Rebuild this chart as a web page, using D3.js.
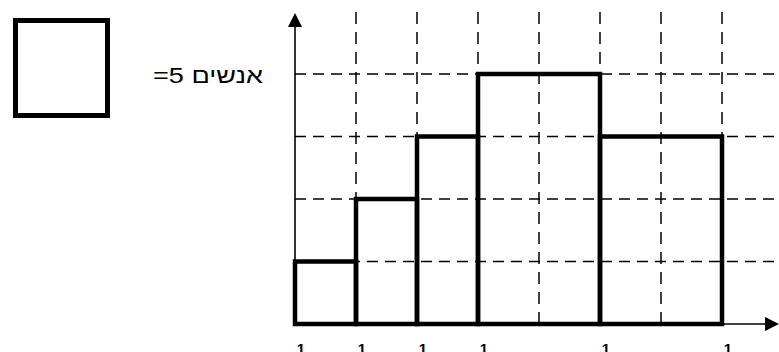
<!DOCTYPE html>
<html>
<head>
<meta charset="utf-8">
<script src="https://cdn.jsdelivr.net/npm/d3@7"></script>
<style>
  html, body { margin: 0; padding: 0; background: #fff; overflow: hidden; }
</style>
</head>
<body>
<div id="chart"></div>
<script>
// bin edges and heights, in grid squares (one square = 5 people)
var binEdges = [0, 1, 2, 3, 5, 7]
var binHeights = [1, 2, 3, 4, 3]
var gridCols = [1, 2, 3, 4, 5, 6, 7]
var gridRows = [1, 2, 3, 4]
var tickLabels = ["1", "1", "1", "1", "1", "1"]
var legendText = "אנשים 5="

var width = 779
var height = 352

var svg = d3.select("#chart")
  .append("svg")
  .attr("width", width)
  .attr("height", height)

// scales
var x = d3.scaleLinear().domain([0, 7]).range([295, 722])
var y = d3.scaleLinear().domain([0, 4]).range([324, 74])

var gridTop = 12
var gridRight = 778

// dashed grid
svg.append("g")
  .selectAll("line")
  .data(gridCols)
  .join("line")
    .attr("x1", d => x(d))
    .attr("x2", d => x(d))
    .attr("y1", gridTop)
    .attr("y2", y(0))
    .attr("stroke", "#000")
    .attr("stroke-width", 1.5)
    .attr("stroke-dasharray", "12,8")

svg.append("g")
  .selectAll("line")
  .data(gridRows)
  .join("line")
    .attr("x1", x(0))
    .attr("x2", gridRight)
    .attr("y1", d => y(d))
    .attr("y2", d => y(d))
    .attr("stroke", "#000")
    .attr("stroke-width", 1.5)
    .attr("stroke-dasharray", "11,7")

// axes with arrow heads
svg.append("line")
  .attr("x1", x(0)).attr("x2", x(0))
  .attr("y1", y(0)).attr("y2", 24)
  .attr("stroke", "#000").attr("stroke-width", 1.6)

svg.append("path")
  .attr("d", "M" + x(0) + ",13 L" + (x(0) - 7) + ",27 L" + (x(0) + 7) + ",27 Z")
  .attr("fill", "#000")

svg.append("line")
  .attr("x1", x(0)).attr("x2", 768)
  .attr("y1", y(0)).attr("y2", y(0))
  .attr("stroke", "#000").attr("stroke-width", 1.6)

svg.append("path")
  .attr("d", "M779," + y(0) + " L765," + (y(0) - 7) + " L765," + (y(0) + 7) + " Z")
  .attr("fill", "#000")

// histogram bars
var bins = binHeights.map((h, i) => ({x0: binEdges[i], x1: binEdges[i + 1], h: h}))

svg.append("g")
  .selectAll("rect")
  .data(bins)
  .join("rect")
    .attr("x", d => x(d.x0))
    .attr("y", d => y(d.h))
    .attr("width", d => x(d.x1) - x(d.x0))
    .attr("height", d => y(0) - y(d.h))
    .attr("fill", "none")
    .attr("stroke", "#000")
    .attr("stroke-width", 4.5)

// tick labels (cut off by the bottom edge, as in the original)
svg.append("g")
  .selectAll("text")
  .data(binEdges)
  .join("text")
    .attr("x", d => x(d) + 6)
    .attr("y", 354)
    .attr("text-anchor", "middle")
    .style("font-family", "'Liberation Sans', Arial, sans-serif")
    .style("font-size", "15px")
    .style("font-weight", "bold")
    .text((d, i) => tickLabels[i])

// legend: one square = 5 people
svg.append("rect")
  .attr("x", 15.5)
  .attr("y", 20.5)
  .attr("width", 92)
  .attr("height", 95)
  .attr("fill", "none")
  .attr("stroke", "#000")
  .attr("stroke-width", 5)

svg.append("text")
  .attr("x", 263)
  .attr("y", 83)
  .attr("direction", "rtl")
  .attr("text-anchor", "start")
  .attr("textLength", 110)
  .attr("lengthAdjust", "spacingAndGlyphs")
  .style("font-family", "'Liberation Sans', Arial, sans-serif")
  .style("font-size", "22px")
  .text(legendText)
</script>
</body>
</html>
